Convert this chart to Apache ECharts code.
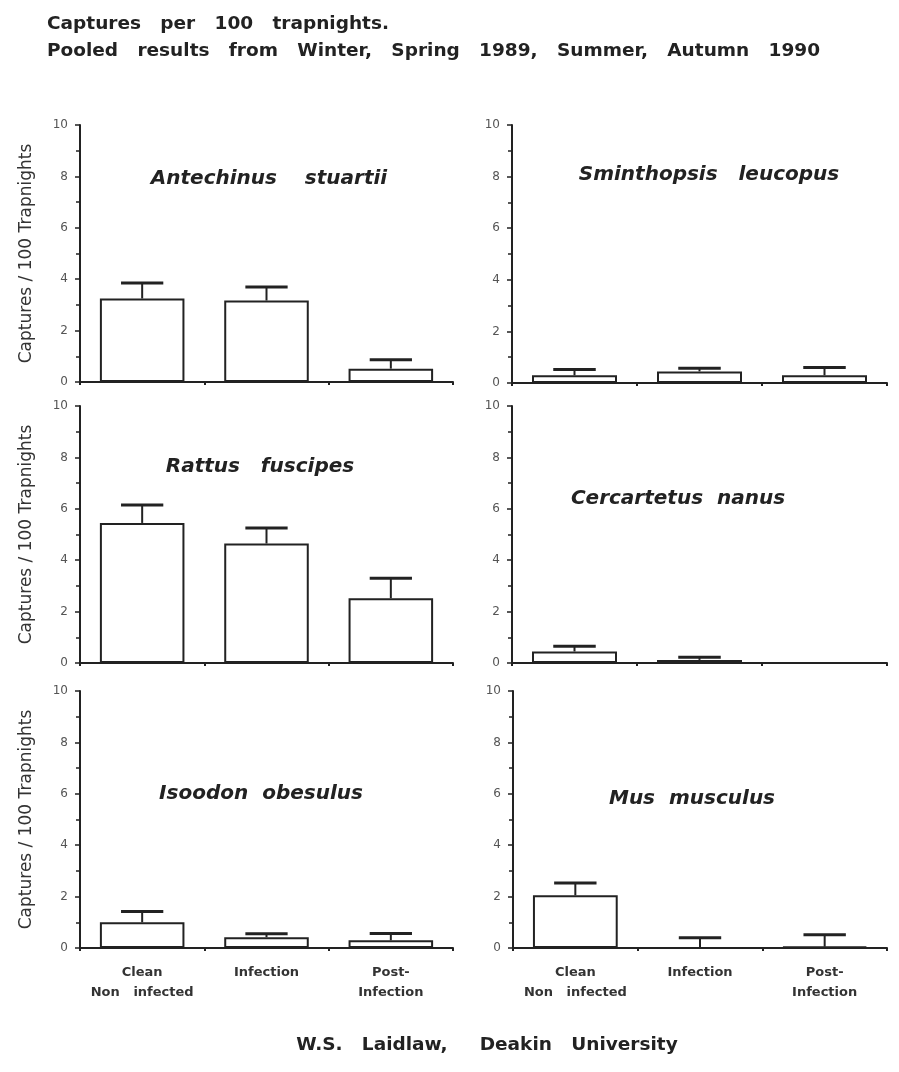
<!DOCTYPE html>
<html>
<head>
<meta charset="utf-8">
<script src="https://cdn.jsdelivr.net/npm/echarts@6/dist/echarts.min.js"></script>
<style>
html,body{margin:0;padding:0;background:#fff;}
#chart{width:899px;height:1072px;}
</style>
</head>
<body>
<div id="chart"></div>
<script>
// ---- data ----
const categories = ['Clean\nNon   infected', 'Infection', 'Post-\nInfection'];
const yTickValues = [0, 2, 4, 6, 8, 10];
const speciesNames = ['Antechinus    stuartii', 'Sminthopsis   leucopus', 'Rattus   fuscipes', 'Cercartetus  nanus', 'Isoodon  obesulus', 'Mus  musculus'];

const antechinusMean = [3.25, 3.17, 0.52];
const antechinusErr  = [0.60, 0.53, 0.35];
const sminthopsisMean = [0.30, 0.45, 0.30];
const sminthopsisErr  = [0.22, 0.12, 0.30];
const rattusMean = [5.45, 4.65, 2.52];
const rattusErr  = [0.70, 0.60, 0.78];
const cercartetusMean = [0.45, 0.12, 0];
const cercartetusErr  = [0.20, 0.10, 0];
const isoodonMean = [1.00, 0.42, 0.30];
const isoodonErr  = [0.42, 0.13, 0.26];
const musMean = [2.05, 0, 0.05];
const musErr  = [0.48, 0.40, 0.47];

const titleLine1 = 'Captures   per   100   trapnights.';
const titleLine2 = 'Pooled   results   from   Winter,   Spring   1989,   Summer,   Autumn   1990';
const footerText = 'W.S.   Laidlaw,     Deakin   University';
const yAxisName = 'Captures / 100 Trapnights';

// ---- layout ----
const means = [antechinusMean, sminthopsisMean, rattusMean, cercartetusMean, isoodonMean, musMean];
const errs  = [antechinusErr, sminthopsisErr, rattusErr, cercartetusErr, isoodonErr, musErr];
const gridBoxes = [
  {left: 80,  top: 125, width: 373, height: 257},
  {left: 512, top: 125, width: 375, height: 258},
  {left: 80,  top: 406, width: 373, height: 257},
  {left: 512, top: 406, width: 375, height: 257},
  {left: 80,  top: 691, width: 373, height: 257},
  {left: 513, top: 691, width: 374, height: 257}
];
const labelPos = [[269,179],[709,175],[260,467],[678,499],[261,794],[692,799]];
const ink = '#222';

const grid = [], xAxis = [], yAxis = [], series = [], graphic = [];
gridBoxes.forEach((g, i) => {
  grid.push(Object.assign({containLabel: false}, g));
  const bottomRow = i >= 4;
  const leftCol = i % 2 === 0;
  xAxis.push({
    type: 'category', gridIndex: i, data: categories,
    axisLine: {show: true, lineStyle: {color: ink, width: 2}},
    axisTick: {show: true, length: 3, lineStyle: {color: ink, width: 2}},
    axisLabel: {
      show: bottomRow, interval: 0, hideOverlap: false, color: '#333', fontFamily: 'DejaVu Sans', fontWeight: 'bold',
      fontSize: 13, lineHeight: 20, margin: 15
    },
    splitLine: {show: false}
  });
  yAxis.push({
    type: 'value', gridIndex: i, min: 0, max: 10, interval: 2,
    name: leftCol ? yAxisName : '',
    nameLocation: 'middle', nameRotate: 90, nameGap: 45,
    nameTextStyle: {fontFamily: 'DejaVu Sans', fontSize: 17, color: '#333'},
    axisLine: {show: true, lineStyle: {color: ink, width: 2}},
    axisTick: {show: true, length: 5, lineStyle: {color: ink, width: 1.5}},
    minorTick: {show: true, splitNumber: 2, length: 4, lineStyle: {color: ink, width: 1.5}},
    axisLabel: {
      color: '#555', fontFamily: 'DejaVu Sans', fontSize: 12, margin: 12,
      formatter: v => (yTickValues.indexOf(v) >= 0 ? String(v) : '')
    },
    splitLine: {show: false}
  });
  series.push({
    type: 'bar', xAxisIndex: i, yAxisIndex: i, barWidth: '68%', z: 2,
    data: means[i],
    itemStyle: {color: '#fff', borderColor: ink, borderWidth: 2},
    silent: true
  });
  series.push({
    type: 'custom', xAxisIndex: i, yAxisIndex: i, z: 3, silent: true,
    data: means[i].map((m, k) => [k, m, errs[i][k]]),
    renderItem: (params, api) => {
      const e = api.value(2);
      if (!e) return null;
      const x = api.value(0), y = api.value(1);
      const base = api.coord([x, y]);
      const top = api.coord([x, y + e]);
      const cw = api.size([1, 0])[0] * 0.34;
      return {type: 'group', children: [
        {type: 'line', shape: {x1: base[0], y1: base[1], x2: top[0], y2: top[1]}, style: {stroke: ink, lineWidth: 2}},
        {type: 'line', shape: {x1: top[0] - cw / 2, y1: top[1], x2: top[0] + cw / 2, y2: top[1]}, style: {stroke: ink, lineWidth: 3}}
      ]};
    }
  });
  graphic.push({
    type: 'text', x: labelPos[i][0], y: labelPos[i][1],
    style: {text: speciesNames[i], fill: ink, font: 'italic bold 20px "DejaVu Sans"', textAlign: 'center', textVerticalAlign: 'middle'}
  });
});

graphic.push({type: 'text', x: 47, y: 24, style: {text: titleLine1, fill: ink, font: 'bold 18.5px "DejaVu Sans"', textAlign: 'left', textVerticalAlign: 'middle'}});
graphic.push({type: 'text', x: 47, y: 51, style: {text: titleLine2, fill: ink, font: 'bold 18.5px "DejaVu Sans"', textAlign: 'left', textVerticalAlign: 'middle'}});
graphic.push({type: 'text', x: 487, y: 1045, style: {text: footerText, fill: ink, font: 'bold 18.5px "DejaVu Sans"', textAlign: 'center', textVerticalAlign: 'middle'}});

const chart = echarts.init(document.getElementById('chart'), null, {renderer: 'canvas'});
chart.setOption({
  backgroundColor: '#fff',
  animation: false,
  grid, xAxis, yAxis, series, graphic
});
</script>
</body>
</html>
